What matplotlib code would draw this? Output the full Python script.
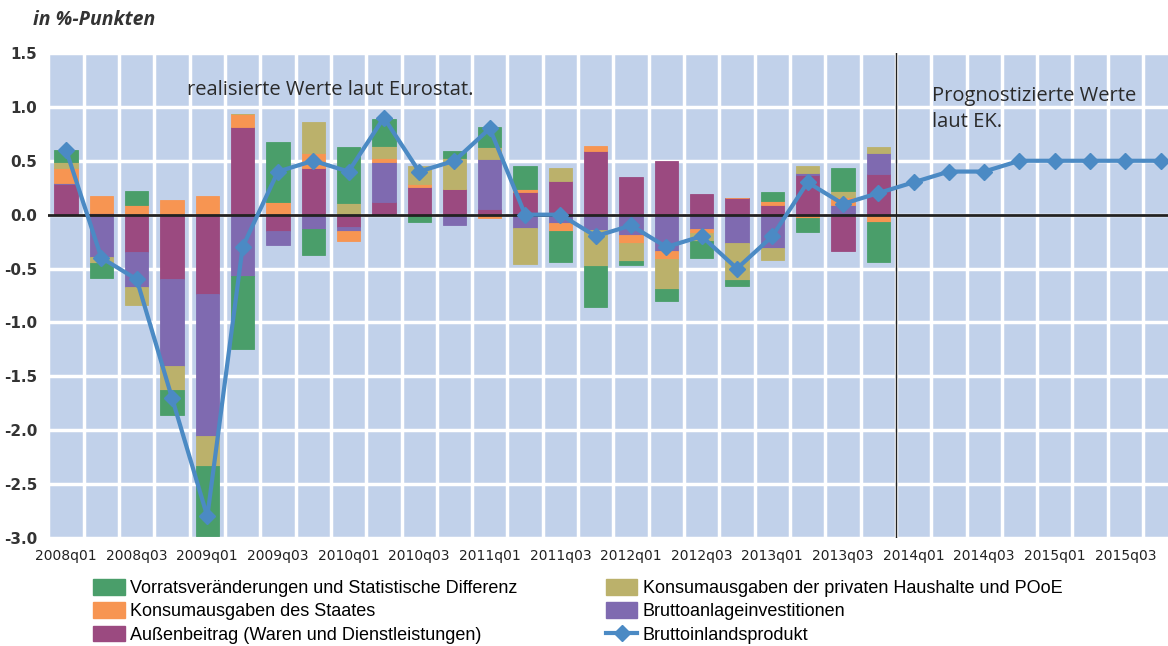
import numpy as np
import matplotlib
matplotlib.use("Agg")
from matplotlib import pyplot as plt
from matplotlib.patches import Patch
from matplotlib.lines import Line2D

# quarters 2008q1 .. 2015q4
quarters = [f"{y}q0{q}" for y in range(2008, 2016) for q in range(1, 5)]

# contributions (2008q1 .. 2013q4), stacking order from zero outwards
aussenbeitrag = [0.28, 0.02, -0.35, -0.60, -0.74, 0.81, -0.15, 0.43, -0.11, 0.12, 0.26, 0.24,
                 0.05, 0.21, 0.31, 0.59, 0.35, 0.50, 0.19, 0.15, 0.09, 0.37, -0.34, 0.38]
bruttoanlage = [0.01, -0.39, -0.32, -0.80, -1.31, -0.57, -0.13, -0.13, -0.04, 0.37, 0.00, -0.10,
                0.47, -0.12, -0.08, -0.14, -0.19, -0.34, -0.13, -0.26, -0.31, 0.02, 0.09, 0.19]
staat = [0.14, 0.15, 0.09, 0.14, 0.17, 0.12, 0.12, 0.14, -0.09, 0.04, 0.02, 0.00,
         -0.03, 0.03, -0.07, 0.05, -0.07, -0.07, -0.04, 0.00, 0.04, -0.03, 0.07, -0.07]
privat = [0.06, -0.06, -0.17, -0.23, -0.28, 0.00, 0.00, 0.29, 0.11, 0.11, 0.17, 0.29,
          0.11, -0.34, 0.12, -0.34, -0.17, -0.28, -0.07, -0.35, -0.11, 0.06, 0.06, 0.06]
vorrat = [0.11, -0.14, 0.13, -0.23, -0.65, -0.68, 0.55, -0.24, 0.52, 0.25, -0.07, 0.06,
          0.18, 0.21, -0.29, -0.38, -0.04, -0.11, -0.16, -0.05, 0.08, -0.13, 0.21, -0.37]

# GDP, realised + forecast
bip = [0.6, -0.4, -0.6, -1.7, -2.8, -0.3, 0.4, 0.5, 0.4, 0.9, 0.4, 0.5,
       0.8, 0.0, 0.0, -0.2, -0.1, -0.3, -0.2, -0.5, -0.2, 0.3, 0.1, 0.2,
       0.3, 0.4, 0.4, 0.5, 0.5, 0.5, 0.5, 0.5]

series = [
    ("Außenbeitrag (Waren und Dienstleistungen)", aussenbeitrag, "#9b4a80"),
    ("Bruttoanlageinvestitionen", bruttoanlage, "#7f6ab0"),
    ("Konsumausgaben des Staates", staat, "#f79552"),
    ("Konsumausgaben der privaten Haushalte und POoE", privat, "#bbb16b"),
    ("Vorratsveränderungen und Statistische Differenz", vorrat, "#4a9e6a"),
]
bg = "#c1d1ea"
line_col = "#4b8ac4"

fig = plt.figure(figsize=(11.68, 6.46), dpi=100)
ax = fig.add_axes([48.4 / 1168, 1 - 538 / 646, 1130 / 1168, 485 / 646])
ax.set_facecolor(bg)

x = np.arange(len(aussenbeitrag))
pos_base = np.zeros(len(x))
neg_base = np.zeros(len(x))
for name, vals, col in series:
    v = np.array(vals)
    bottoms = np.where(v >= 0, pos_base, neg_base)
    ax.bar(x, v, width=0.66, bottom=bottoms, color=col, edgecolor=col,
           linewidth=0.6, zorder=3)
    pos_base += np.where(v >= 0, v, 0)
    neg_base += np.where(v < 0, v, 0)

xl = np.arange(len(bip))
ax.plot(xl, bip, color=line_col, lw=3, marker="D", ms=8, zorder=5)

ax.axhline(0, color="#222222", lw=2, zorder=4)
ax.axvline(23.5, color="#222222", lw=1, zorder=4)

ax.set_xlim(-0.5, 31.5)
ax.set_ylim(-3.0, 1.5)
ax.set_yticks(np.arange(-3.0, 1.51, 0.5))
ax.set_yticklabels([f"{t:.1f}" for t in np.arange(-3.0, 1.51, 0.5)],
                   fontsize=11, fontweight="bold", color="#333333")
ax.set_xticks(xl[::2])
ax.set_xticklabels(quarters[::2], fontsize=10, color="#222222")
ax.set_xticks(np.arange(-0.5, 31.6, 1), minor=True)
ax.grid(True, axis="y", which="major", color="white", lw=2.5, zorder=1)
ax.grid(True, axis="x", which="minor", color="white", lw=2.5, zorder=1)
ax.grid(False, axis="x", which="major")
ax.tick_params(axis="both", which="both", length=0, pad=8)
for s in ax.spines.values():
    s.set_visible(False)

ax.text(3.43, 1.16, "realisierte Werte laut Eurostat.", fontsize=14.5,
        color="#2a2a2a", family="Open Sans", va="center")
ax.text(24.53, 0.98, "Prognostizierte Werte\nlaut EK.", fontsize=14.5,
        color="#2a2a2a", family="Open Sans", va="center", linespacing=1.45)

fig.text(33 / 1168, 1 - 20 / 646, "in %-Punkten", fontsize=14, style="italic",
         fontweight="bold", family="Open Sans", color="#333333", va="center")

handles = [
    Patch(color=series[4][2], label=series[4][0]),
    Patch(color=series[2][2], label=series[2][0]),
    Patch(color=series[0][2], label=series[0][0]),
    Patch(color=series[3][2], label=series[3][0]),
    Patch(color=series[1][2], label=series[1][0]),
    Line2D([], [], color=line_col, lw=3, marker="D", ms=8, label="Bruttoinlandsprodukt"),
]
fig.legend(handles=handles, ncol=2, loc="upper left",
           bbox_to_anchor=(84 / 1168, 1 - 570 / 646), frameon=False,
           handlelength=1.75, handleheight=0.95, handletextpad=0.3,
           columnspacing=4.9, labelspacing=0.3, borderpad=0,
           prop={"family": "Liberation Sans", "size": 13})

fig.savefig("out.png", dpi=100)
